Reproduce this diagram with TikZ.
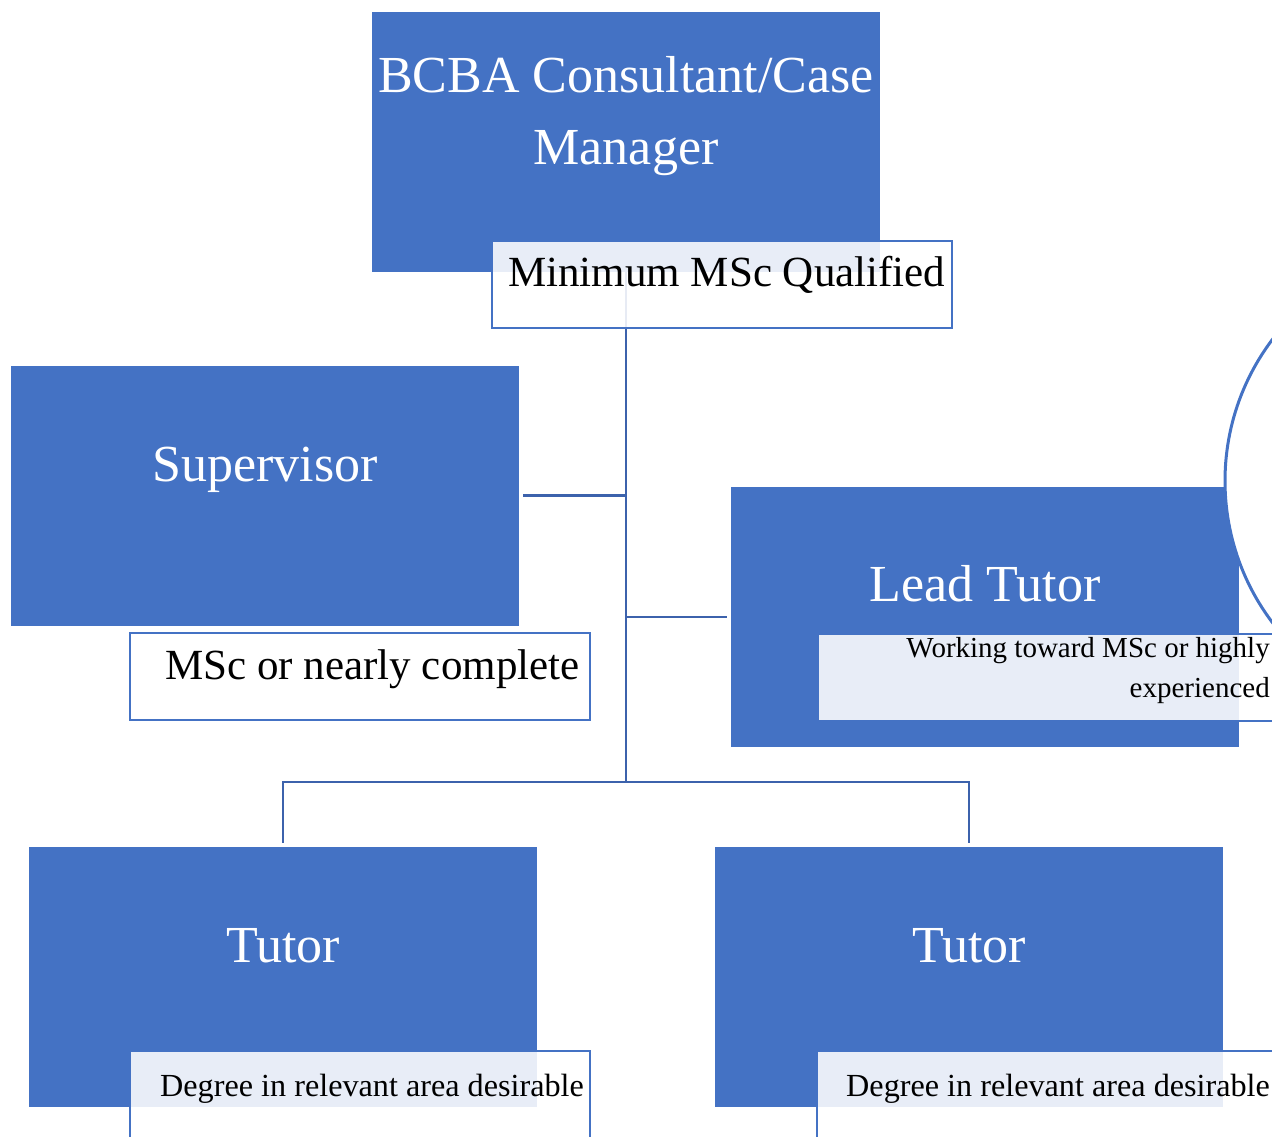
\documentclass[tikz,border=0pt]{standalone}
\usepackage{fontspec}
\setmainfont{Liberation Serif}
\definecolor{boxblue}{HTML}{4472C4}
\definecolor{lineblue}{HTML}{3C62AC}

\begin{document}
\begin{tikzpicture}[x=1pt,y=-1pt,
  box/.style={rectangle,fill=boxblue,minimum width=508pt,minimum height=260pt,inner sep=0pt},
  textbox/.style={rectangle,draw=boxblue,line width=2.5pt,fill=white,fill opacity=0.88,minimum width=460pt,minimum height=87pt,inner sep=0pt},
  big/.style={text=white,font=\fontsize{52}{72}\selectfont,align=center,inner sep=0pt},
  small/.style={text=black,font=\fontsize{43}{50}\selectfont,inner sep=0pt},
  conn/.style={draw=lineblue,line width=2.8pt}]

\clip (0,0) rectangle (1272,1137);

\node[box] (bcba) at (626,142) {};

\node[box] (sup) at (265,495.5) {};

\node[box] (lead) at (985,617) {};

\node[box] (tut1) at (283,977) {};

\node[box] (tut2) at (969,977) {};

\coordinate (hub) at (626,782);

\draw[conn] (bcba.south) -- (hub);
\draw[conn] (hub |- sup.east) -- ([xshift=4pt]sup.east);
\draw[conn] (hub |- lead.west) -- ([xshift=-4pt]lead.west);
\draw[conn] (hub) -| ([yshift=4pt]tut1.north);
\draw[conn] (hub) -| ([yshift=4pt]tut2.north);

\node[circle,draw=boxblue,fill=white,line width=3pt,minimum size=470pt] (ring) at (1460,481) {};

\node[textbox] (bcbareq) at (722,284.5) {};

\node[textbox] (supreq) at (360,676.5) {};

\node[textbox] (leadreq) at (1048,677.5) {};

\node[textbox] (tut1req) at (360,1094.5) {};

\node[textbox] (tut2req) at (1047,1094.5) {};

\node[big] (bcbatxt) at (626,116) {BCBA Consultant/Case\\Manager};
\node[big,anchor=base] (suptxt) at (265,481) {Supervisor};
\node[big,anchor=base] (leadtxt) at (985,601) {Lead Tutor};
\node[big,anchor=base] (tut1txt) at (283,962) {Tutor};
\node[big,anchor=base] (tut2txt) at (969,962) {Tutor};

\node[small,anchor=base west] (bcbareqtxt) at (508,286) {Minimum MSc Qualified};
\node[small,anchor=base west] (supreqtxt) at (165,679) {MSc or nearly complete};
\node[small,anchor=east,align=right,font=\fontsize{29}{40}\selectfont] (leadreqtxt) at (1270,671) {Working toward MSc or highly\\experienced};
\node[small,anchor=base west,font=\fontsize{32.2}{40}\selectfont] (tut1reqtxt) at (160,1096) {Degree in relevant area desirable};
\node[small,anchor=base west,font=\fontsize{32.2}{40}\selectfont] (tut2reqtxt) at (846,1096) {Degree in relevant area desirable};

\end{tikzpicture}
\end{document}
